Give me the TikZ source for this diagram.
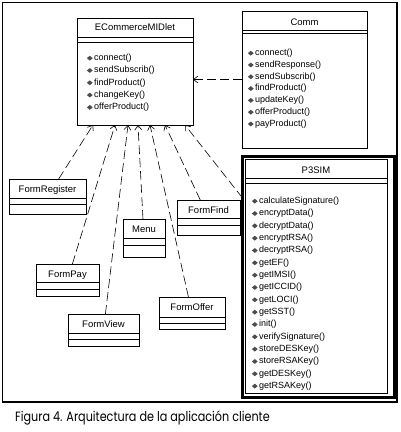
\documentclass[tikz,border=0pt]{standalone}
\usepackage{fontspec}
\setmainfont{Liberation Sans}
\newfontfamily\capf[FakeStretch=0.83]{Poppins}
\usetikzlibrary{arrows.meta,shapes.geometric}
\begin{document}
\begin{tikzpicture}[x=1pt,y=-1pt,
  box/.style={draw, line width=0.8pt, inner sep=0, outer sep=0, anchor=north west},
  sep/.style={line width=0.8pt},
  ttl/.style={font=\fontsize{9.5}{10}\selectfont, inner sep=0, anchor=base},
  meth/.style={anchor=base west, inner sep=0, font=\fontsize{9}{10}\selectfont, label={[gem]left:{}}},
  gem/.style={diamond, fill=black!70, inner sep=0, minimum width=6pt, minimum height=5pt, xshift=-1pt},
  dep/.style={dash pattern=on 9pt off 4pt, line width=0.6pt, -{Straight Barb[length=4.5pt,width=7pt]}}
]
\useasboundingbox (0,0) rectangle (400,432);
% frame
\node[box, line width=1.2pt, minimum width=394.5, minimum height=399.5] (frame) at (2.5,2.5) {};

% ECommerceMIDlet
\node[box, minimum width=116, minimum height=107] (ec) at (77,18) {};
\draw[sep] (77,37) -- (193,37);
\draw[sep] (77,42) -- (193,42);
\node[ttl] (ect) at (135,30.5) {ECommerceMIDlet};
\foreach \m [count=\i from 0] in {connect(),sendSubscrib(),findProduct(),changeKey(),offerProduct()}
  \node[meth] (ecm\i) at (94,{60.5+12.3*\i}) {\m};

% Comm
\node[box, minimum width=125, minimum height=137] (comm) at (242,11) {};
\draw[sep] (242,30) -- (367,30);
\draw[sep] (242,33) -- (367,33);
\node[ttl] (commt) at (304.5,25.5) {Comm};
\foreach \m [count=\i from 0] in {connect(),sendResponse(),sendSubscrib(),findProduct(),updateKey(),offerProduct(),payProduct()}
  \node[meth] (cmm\i) at (255,{55.5+11.8*\i}) {\m};

% P3SIM
\node[box, line width=3pt, minimum width=152, minimum height=241] (p3) at (242.5,156.5) {};
\node[box, minimum width=141.5, minimum height=234] (p3in) at (245.5,159.5) {};
\draw[sep] (245.5,178) -- (387,178);
\draw[sep] (245.5,183) -- (387,183);
\node[ttl] (p3t) at (316,173.5) {P3SIM};
\foreach \m [count=\i from 0] in {calculateSignature(),encryptData(),decryptData(),encryptRSA(),decryptRSA(),getEF(),getIMSI(),getICCID(),getLOCI(),getSST(),init(),verifySignature(),storeDESKey(),storeRSAKey(),getDESKey(),getRSAKey()}
  \node[meth] (p3m\i) at (259,{203.5+12.33*\i}) {\m};

% small classes
\node[box, minimum width=77, minimum height=35] (freg) at (9,179) {};
\draw[sep] (9,198) -- (86,198);
\draw[sep] (9,204) -- (86,204);
\node[ttl] (fregt) at (47.5,192.5) {FormRegister};

\node[box, minimum width=63, minimum height=35] (ffind) at (177,200) {};
\draw[sep] (177,218) -- (240,218);
\draw[sep] (177,225) -- (240,225);
\node[ttl] (ffindt) at (208.5,213.5) {FormFind};

\node[box, minimum width=42, minimum height=38] (menu) at (123,219) {};
\draw[sep] (123,238) -- (165,238);
\draw[sep] (123,245) -- (165,245);
\node[ttl] (menut) at (144,232.5) {Menu};

\node[box, minimum width=63, minimum height=32] (fpay) at (36,264) {};
\draw[sep] (36,282) -- (99,282);
\draw[sep] (36,289) -- (99,289);
\node[ttl] (fpayt) at (67.5,277.5) {FormPay};

\node[box, minimum width=71, minimum height=32] (fview) at (68,314) {};
\draw[sep] (68,333) -- (139,333);
\draw[sep] (68,339) -- (139,339);
\node[ttl] (fviewt) at (103.5,327) {FormView};

\node[box, minimum width=66, minimum height=32] (foffer) at (159,297) {};
\draw[sep] (159,317) -- (225,317);
\draw[sep] (159,323) -- (225,323);
\node[ttl] (foffert) at (192,310) {FormOffer};

% connectors
\coordinate (e1) at (93,125);
\coordinate (e2) at (115,125);
\coordinate (e3) at (128,125);
\coordinate (e4) at (138,125);
\coordinate (e5) at (150,125);
\coordinate (e6) at (165,125);
\coordinate (e7) at (185,125);
\coordinate (p3a) at (242.5,198);
\draw[dep] (freg) -- (e1);
\draw[dep] (fpay) -- (e2);
\draw[dep] (fview) -- (e3);
\draw[dep] (menu) -- (e4);
\draw[dep] (foffer) -- (e5);
\draw[dep] (ffind) -- (e6);
\draw[dep] (p3a) -- (e7);
\draw[dep] (comm.west) -- (comm.west -| ec.east);

% caption
\node[anchor=base west, inner sep=0, font=\capf\fontsize{13.5}{15}\selectfont] (cap) at (15,421) {Figura 4. Arquitectura de la aplicación cliente};
\end{tikzpicture}
\end{document}
